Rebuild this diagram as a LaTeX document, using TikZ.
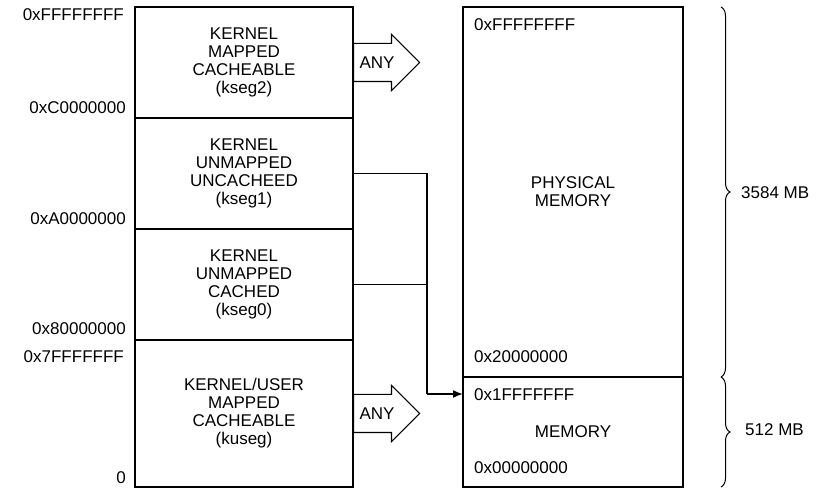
\documentclass[tikz,border=0pt]{standalone}
\usepackage{fontspec}
\setmainfont{Liberation Sans}
\usetikzlibrary{shapes.arrows,decorations.pathreplacing,arrows.meta}

\begin{document}
\begin{tikzpicture}[x=1pt,y=1pt,
	font=\fontsize{17}{18}\selectfont,
	seg/.style={draw, line width=1.6pt, minimum width=218pt, align=center, inner sep=0pt, outer sep=0pt},
	ram/.style={draw, line width=1.6pt, minimum width=220pt, align=center, inner sep=0pt, outer sep=0pt},
	addr/.style={inner sep=0pt},
	anyarrow/.style={single arrow, draw, line width=1.2pt, anchor=tail, minimum height=66pt, minimum width=55pt,
		single arrow head extend=9pt, text height=12pt, text depth=0pt, inner ysep=12.5pt, inner xsep=2pt},
	wire/.style={line width=1.6pt},
	sizebrace/.style={line width=1pt, decorate, decoration={brace, amplitude=9pt}}]
	\useasboundingbox (0,0) rectangle (822,490);

	% Virtual segments
	\node[seg, minimum height=111pt] (kseg2) at (244,427.5) {KERNEL\\MAPPED\\CACHEABLE\\(kseg2)};
	\node[seg, minimum height=111pt] (kseg1) at (244,316.5) {KERNEL\\UNMAPPED\\UNCACHEED\\(kseg1)};
	\node[seg, minimum height=111pt] (kseg0) at (244,205.5) {KERNEL\\UNMAPPED\\CACHED\\(kseg0)};
	\node[seg, minimum height=147pt] (kuseg) at (244,76.5) {KERNEL/USER\\MAPPED\\CACHEABLE\\(kuseg)};

	% Virtual addresses
	\node[addr, anchor=east] (vtop) at (124,475) {0xFFFFFFFF};
	\node[addr, anchor=east] (vc) at (126,382) {0xC0000000};
	\node[addr, anchor=east] (va) at (126,271) {0xA0000000};
	\node[addr, anchor=east] (v8) at (126,161) {0x80000000};
	\node[addr, anchor=east] (v7) at (124,133) {0x7FFFFFFF};
	\node[addr, anchor=east] (vzero) at (126,12) {0};

	% Physical memory
	\node[ram, minimum height=370pt] (phys) at (573,298) {PHYSICAL\\MEMORY};
	\node[ram, minimum height=110pt] (mem) at (573,58) {MEMORY};

	% Physical addresses
	\node[addr, anchor=west] (ptop) at (474,465) {0xFFFFFFFF};
	\node[addr, anchor=west] (p2) at (474,133) {0x20000000};
	\node[addr, anchor=west] (p1) at (474,95) {0x1FFFFFFF};
	\node[addr, anchor=west] (pzero) at (474,22) {0x00000000};

	% ANY arrows
	\node[anyarrow] (any2) at (kseg2.east) {ANY};
	\node[anyarrow] (anyu) at (kuseg.east) {ANY};

	% unmapped segments
	\coordinate (join) at (427,96);
	\draw[wire] (kseg1.east) -| (join);
	\draw[wire] (kseg0.east) -- (kseg0.east -| join);
	\draw[wire, -{Latex[length=10pt,width=8pt]}] (join) -- (join -| mem.west);

	% sizes
	\draw[sizebrace] ([xshift=38pt]phys.north east) -- ([xshift=38pt]phys.south east);
	\draw[sizebrace] ([xshift=38pt]mem.north east) -- ([xshift=38pt]mem.south east);
	\node[addr, anchor=west] (big) at (741,297) {3584 MB};
	\node[addr, anchor=west] (small) at (745,60) {512 MB};
\end{tikzpicture}
\end{document}
